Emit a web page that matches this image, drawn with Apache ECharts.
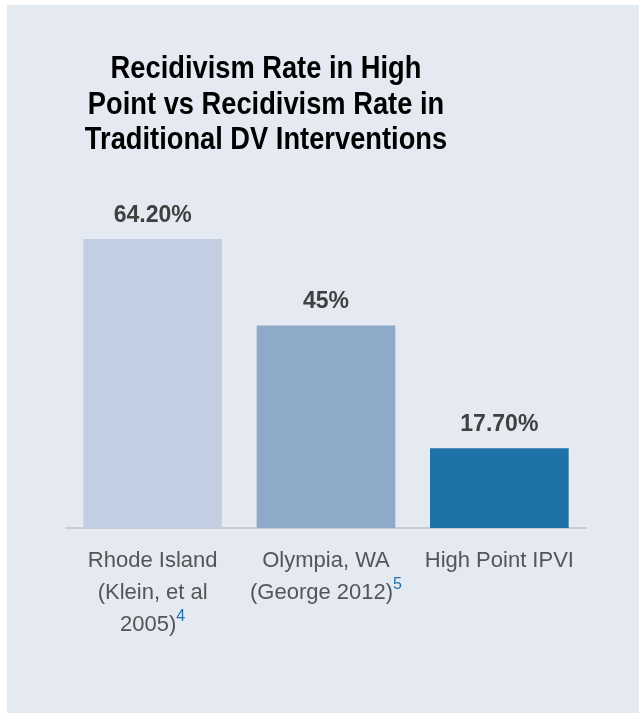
<!DOCTYPE html>
<html>
<head>
<meta charset="utf-8">
<script src="https://cdn.jsdelivr.net/npm/echarts@6/dist/echarts.min.js"></script>
<style>
  html, body { margin: 0; padding: 0; background: #ffffff; }
  #chart { position: absolute; left: 7px; top: 5px; width: 632px; height: 708px; }
</style>
</head>
<body>
<div id="chart"></div>
<script>
// ---- data ----
const titleText = 'Recidivism Rate in High\nPoint vs Recidivism Rate in\nTraditional DV Interventions';
const categories = ['Rhode Island\n(Klein, et al\n2005)', 'Olympia, WA\n(George 2012)', 'High Point IPVI'];
const footnotes = ['4', '5', ''];
const values = [64.2, 45, 17.7];
const valueLabels = ['64.20%', '45%', '17.70%'];
const barColors = ['#c2cfe2', '#8eaac8', '#1e72a8'];

const chart = echarts.init(document.getElementById('chart'));

function catLabel(value) {
  const i = categories.indexOf(value);
  const parts = value.split('\n').map(l => '{lab|' + l + '}');
  if (i >= 0 && footnotes[i]) parts[parts.length - 1] += '{sup|' + footnotes[i] + '}';
  return parts.join('\n');
}

chart.setOption({
  backgroundColor: '#e4e9f2',
  animation: false,
  graphic: [{
    type: 'text',
    x: 259,
    y: 47,
    scaleX: 0.88,
    style: {
      text: titleText,
      textAlign: 'center',
      textVerticalAlign: 'top',
      fontFamily: '"Liberation Sans", Arial, sans-serif',
      fontWeight: 'bold',
      fontSize: 31,
      lineHeight: 35.5,
      fill: '#000000'
    }
  }],
  grid: { left: 59, width: 520, top: 208, bottom: 185, containLabel: false },
  xAxis: {
    type: 'category',
    data: categories,
    axisTick: { show: false },
    axisLine: { lineStyle: { color: '#c9cbcf', width: 2 } },
    axisLabel: {
      interval: 0,
      margin: 17,
      formatter: catLabel,
      rich: {
        lab: { fontFamily: '"Liberation Sans", Arial, sans-serif', fontSize: 22, lineHeight: 32, color: '#555555' },
        sup: { fontFamily: '"Liberation Sans", Arial, sans-serif', fontSize: 16, lineHeight: 26, color: '#1e72a8', verticalAlign: 'top' }
      }
    }
  },
  yAxis: {
    type: 'value',
    min: 0,
    max: 70,
    show: false,
    splitLine: { show: false }
  },
  series: [{
    type: 'bar',
    data: values.map((v, i) => ({ value: v, itemStyle: { color: barColors[i] } })),
    barCategoryGap: '20%',
    label: {
      show: true,
      position: 'top',
      distance: 12,
      formatter: p => valueLabels[p.dataIndex],
      fontFamily: '"Liberation Sans", Arial, sans-serif',
      fontWeight: 'bold',
      fontSize: 23,
      color: '#404040'
    }
  }]
});
</script>
</body>
</html>
